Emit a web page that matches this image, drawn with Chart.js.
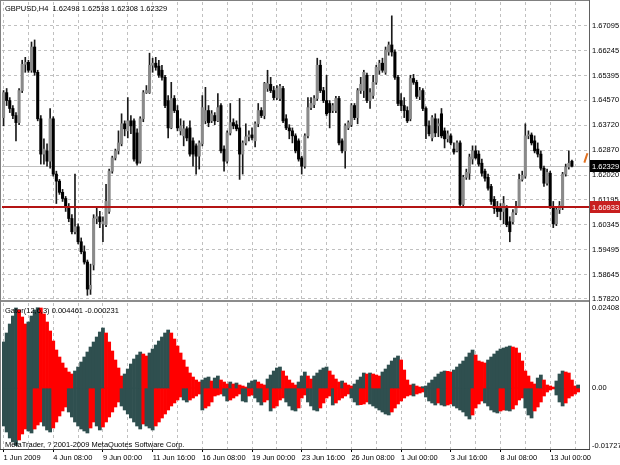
<!DOCTYPE html>
<html><head><meta charset="utf-8">
<script src="https://cdn.jsdelivr.net/npm/chart.js@4.4.1/dist/chart.umd.min.js"></script>
<style>
html,body{margin:0;padding:0;background:#fff;}
#wrap{position:relative;width:620px;height:465px;overflow:hidden;background:#fff;}
#c1{position:absolute;left:0;top:0;z-index:2;}
#c2{position:absolute;left:0;top:300px;z-index:1;}
</style></head><body>
<div id="wrap"><canvas id="c1" width="620" height="306"></canvas><canvas id="c2" width="620" height="165"></canvas></div>
<script>
// ---------- DATA ----------
const slotCount = 189; // H4 bar slots on the x axis (incl. shifted gator bars / right margin)
const dateTicks = ['1 Jun 2009','4 Jun 08:00','9 Jun 00:00','11 Jun 16:00','16 Jun 08:00','19 Jun 00:00','23 Jun 16:00','26 Jun 08:00','1 Jul 00:00','3 Jul 16:00','8 Jul 08:00','13 Jul 00:00'];
const barsPerDateTick = 16;
const priceTicks = [1.67095,1.66245,1.65395,1.64570,1.63720,1.62870,1.62020,1.61195,1.60345,1.59495,1.58645,1.57820];
const gatorTicks = [0.02408, 0, -0.01727];
const levelPrice = 1.60933;

const opens = [1.6398,1.6483,1.6456,1.6429,1.6405,1.6381,1.6490,1.6579,1.6586,1.6559,
1.6638,1.6552,1.6394,1.6274,1.6285,1.6250,1.6394,1.6206,1.6182,1.6144,
1.6123,1.6092,1.6055,1.6010,1.6027,1.5976,1.5942,1.5907,1.5815,1.5897,
1.6055,1.6061,1.6037,1.6034,1.6079,1.6216,1.6261,1.6285,1.6309,1.6377,
1.6353,1.6387,1.6387,1.6346,1.6250,1.6394,1.6483,1.6483,1.6576,1.6583,
1.6573,1.6559,1.6535,1.6456,1.6363,1.6463,1.6422,1.6353,1.6336,1.6360,
1.6363,1.6319,1.6302,1.6267,1.6309,1.6387,1.6422,1.6387,1.6405,1.6387,
1.6439,1.6291,1.6250,1.6346,1.6381,1.6374,1.6363,1.6274,1.6312,1.6333,
1.6339,1.6319,1.6377,1.6422,1.6405,1.6497,1.6511,1.6490,1.6466,1.6463,
1.6497,1.6394,1.6363,1.6353,1.6336,1.6319,1.6261,1.6233,1.6336,1.6432,
1.6442,1.6463,1.6576,1.6490,1.6456,1.6446,1.6422,1.6422,1.6463,1.6319,
1.6285,1.6363,1.6374,1.6439,1.6398,1.6490,1.6490,1.6542,1.6456,1.6473,
1.6518,1.6559,1.6583,1.6552,1.6621,1.6645,1.6621,1.6535,1.6456,1.6439,
1.6422,1.6394,1.6531,1.6518,1.6470,1.6490,1.6429,1.6370,1.6329,1.6394,
1.6370,1.6411,1.6353,1.6326,1.6336,1.6291,1.6285,1.6312,1.6103,1.6195,
1.6209,1.6257,1.6285,1.6274,1.6243,1.6216,1.6195,1.6164,1.6120,1.6096,
1.6089,1.6079,1.6089,1.6044,1.6044,1.6075,1.6096,1.6188,1.6199,1.6336,
1.6339,1.6319,1.6291,1.6274,1.6226,1.6175,1.6209,1.6096,1.6037,1.6085,
1.6096,1.6206,1.6230,1.62498];
const highs = [1.6490,1.6497,1.6466,1.6439,1.6415,1.6497,1.6593,1.6603,1.6593,1.6655,
1.6662,1.6559,1.6405,1.6326,1.6309,1.6429,1.6401,1.6216,1.6188,1.6154,
1.6130,1.6106,1.6068,1.6206,1.6037,1.5989,1.5962,1.5914,1.5900,1.6068,
1.6096,1.6079,1.6061,1.6171,1.6223,1.6267,1.6291,1.6353,1.6411,1.6387,
1.6466,1.6405,1.6394,1.6360,1.6401,1.6490,1.6507,1.6617,1.6600,1.6603,
1.6593,1.6576,1.6542,1.6473,1.6518,1.6473,1.6439,1.6394,1.6387,1.6367,
1.6387,1.6329,1.6309,1.6319,1.6473,1.6501,1.6439,1.6422,1.6415,1.6480,
1.6446,1.6302,1.6353,1.6446,1.6394,1.6387,1.6463,1.6319,1.6377,1.6353,
1.6363,1.6384,1.6446,1.6432,1.6518,1.6559,1.6535,1.6504,1.6507,1.6511,
1.6504,1.6408,1.6374,1.6363,1.6343,1.6326,1.6267,1.6343,1.6466,1.6466,
1.6473,1.6600,1.6593,1.6501,1.6542,1.6456,1.6446,1.6470,1.6470,1.6326,
1.6377,1.6387,1.6446,1.6446,1.6497,1.6535,1.6559,1.6549,1.6497,1.6542,
1.6576,1.6593,1.6600,1.6638,1.6655,1.6744,1.6628,1.6542,1.6480,1.6466,
1.6435,1.6542,1.6545,1.6525,1.6501,1.6497,1.6435,1.6387,1.6405,1.6411,
1.6394,1.6429,1.6363,1.6353,1.6343,1.6312,1.6319,1.6319,1.6202,1.6223,
1.6274,1.6302,1.6302,1.6285,1.6257,1.6223,1.6206,1.6171,1.6130,1.6113,
1.6106,1.6130,1.6099,1.6061,1.6085,1.6113,1.6206,1.6216,1.6377,1.6353,
1.6346,1.6336,1.6312,1.6285,1.6233,1.6223,1.6216,1.6113,1.6096,1.6113,
1.6212,1.6240,1.6285,1.62538];
const lows = [1.6370,1.6439,1.6415,1.6394,1.6319,1.6374,1.6483,1.6552,1.6552,1.6552,
1.6542,1.6387,1.6240,1.6240,1.6233,1.6226,1.6199,1.6106,1.6137,1.6113,
1.6079,1.6044,1.6003,1.6003,1.5969,1.5935,1.5900,1.5794,1.5797,1.5880,
1.6037,1.6024,1.5976,1.6027,1.6072,1.6209,1.6254,1.6274,1.6302,1.6336,
1.6329,1.6343,1.6250,1.6236,1.6243,1.6384,1.6480,1.6480,1.6552,1.6559,
1.6535,1.6525,1.6432,1.6329,1.6360,1.6415,1.6353,1.6339,1.6302,1.6319,
1.6267,1.6233,1.6206,1.6223,1.6302,1.6377,1.6367,1.6381,1.6374,1.6384,
1.6278,1.6216,1.6243,1.6339,1.6360,1.6353,1.6188,1.6206,1.6305,1.6319,
1.6322,1.6298,1.6367,1.6398,1.6394,1.6487,1.6483,1.6459,1.6459,1.6456,
1.6381,1.6357,1.6326,1.6312,1.6278,1.6250,1.6206,1.6226,1.6329,1.6425,
1.6432,1.6456,1.6483,1.6449,1.6405,1.6363,1.6415,1.6415,1.6305,1.6278,
1.6226,1.6357,1.6367,1.6391,1.6377,1.6480,1.6466,1.6449,1.6429,1.6463,
1.6511,1.6545,1.6552,1.6545,1.6610,1.6607,1.6528,1.6439,1.6422,1.6398,
1.6381,1.6387,1.6511,1.6463,1.6459,1.6422,1.6326,1.6336,1.6319,1.6333,
1.6333,1.6329,1.6295,1.6315,1.6305,1.6274,1.6281,1.6096,1.6096,1.6188,
1.6188,1.6240,1.6257,1.6233,1.6199,1.6182,1.6151,1.6103,1.6072,1.6061,
1.6051,1.6037,1.6027,1.5976,1.6037,1.6068,1.6092,1.6182,1.6192,1.6326,
1.6305,1.6278,1.6264,1.6219,1.6164,1.6168,1.6089,1.6024,1.6031,1.6072,
1.6085,1.6199,1.6223,1.62308];
const closes = [1.6483,1.6456,1.6429,1.6405,1.6381,1.6490,1.6579,1.6586,1.6559,1.6638,
1.6552,1.6394,1.6274,1.6291,1.6250,1.6394,1.6206,1.6182,1.6144,1.6123,
1.6092,1.6055,1.6010,1.6027,1.5976,1.5942,1.5907,1.5815,1.5828,1.6055,
1.6061,1.6044,1.6044,1.6113,1.6216,1.6261,1.6285,1.6312,1.6377,1.6360,
1.6387,1.6370,1.6257,1.6243,1.6394,1.6483,1.6490,1.6576,1.6583,1.6569,
1.6542,1.6535,1.6439,1.6363,1.6463,1.6422,1.6363,1.6370,1.6360,1.6329,
1.6274,1.6274,1.6267,1.6312,1.6432,1.6422,1.6381,1.6411,1.6387,1.6432,
1.6285,1.6250,1.6346,1.6381,1.6370,1.6360,1.6274,1.6312,1.6333,1.6339,
1.6329,1.6377,1.6422,1.6405,1.6514,1.6514,1.6490,1.6466,1.6497,1.6504,
1.6387,1.6363,1.6353,1.6336,1.6285,1.6257,1.6233,1.6336,1.6432,1.6446,
1.6463,1.6576,1.6490,1.6456,1.6411,1.6415,1.6439,1.6463,1.6312,1.6285,
1.6370,1.6381,1.6439,1.6398,1.6490,1.6511,1.6552,1.6456,1.6483,1.6518,
1.6569,1.6583,1.6559,1.6628,1.6645,1.6621,1.6535,1.6446,1.6439,1.6422,
1.6387,1.6531,1.6518,1.6470,1.6490,1.6429,1.6370,1.6343,1.6398,1.6346,
1.6377,1.6336,1.6326,1.6343,1.6312,1.6281,1.6312,1.6103,1.6195,1.6212,
1.6264,1.6285,1.6261,1.6240,1.6209,1.6192,1.6158,1.6113,1.6089,1.6079,
1.6079,1.6106,1.6034,1.6010,1.6075,1.6096,1.6188,1.6202,1.6336,1.6339,
1.6312,1.6285,1.6274,1.6226,1.6175,1.6212,1.6096,1.6037,1.6085,1.6099,
1.6206,1.6230,1.6243,1.62329];

const gatorUp = [0.0138,0.0165,0.0192,0.0216,0.0240,0.0234,0.0213,0.0192,0.0198,0.0216,
0.0234,0.02408,0.0240,0.0222,0.0198,0.0171,0.0141,0.0114,0.0093,0.0075,
0.0060,0.0048,0.0042,0.0051,0.0063,0.0078,0.0093,0.0108,0.0123,0.0138,
0.0153,0.0168,0.0180,0.0165,0.0138,0.0111,0.0084,0.0060,0.0036,0.0042,
0.0057,0.0072,0.0087,0.0099,0.0108,0.0102,0.0096,0.0105,0.0117,0.0129,
0.0141,0.0153,0.0165,0.0174,0.0165,0.0147,0.0126,0.0105,0.0084,0.0063,
0.0045,0.0033,0.0024,0.0018,0.0024,0.0030,0.0033,0.0021,0.0030,0.0036,
0.0024,0.0018,0.0012,0.0018,0.0012,0.0015,0.0009,0.0006,0.0003,0.0015,
0.0021,0.0024,0.0018,0.0012,0.0009,0.0027,0.0039,0.0051,0.0060,0.0063,
0.0051,0.0036,0.0024,0.0015,0.0009,0.0018,0.0036,0.0048,0.0036,0.0027,
0.0036,0.0045,0.0054,0.0060,0.0063,0.0051,0.0039,0.0027,0.0018,0.0021,
0.0015,0.0009,0.0006,0.0012,0.0024,0.0033,0.0045,0.0042,0.0045,0.0042,
0.0039,0.0036,0.0048,0.0057,0.0069,0.0081,0.0090,0.0096,0.0084,0.0054,
0.0024,0.0009,0.0012,0.0006,0.0003,0.0004,0.0006,0.0015,0.0024,0.0033,
0.0042,0.0048,0.0051,0.0050,0.0048,0.0054,0.0063,0.0072,0.0081,0.0093,
0.0105,0.0114,0.0099,0.0081,0.0078,0.0075,0.0084,0.0093,0.0102,0.0111,
0.0117,0.0120,0.0123,0.0126,0.0123,0.0120,0.0105,0.0081,0.0051,0.0036,
0.0018,0.0012,0.0030,0.0039,0.0024,0.0009,0.0006,0.0003,0.0021,0.0042,
0.0051,0.0048,0.0045,0.0024,0.0006,0.0009];
const gatorDown = [-0.0114,-0.0132,-0.0150,-0.0162,-0.01727,-0.0156,-0.0138,-0.0123,-0.0129,-0.0135,
-0.0123,-0.0111,-0.0102,-0.0114,-0.0126,-0.0132,-0.0120,-0.0102,-0.0084,-0.0069,
-0.0057,-0.0072,-0.0087,-0.0102,-0.0114,-0.0123,-0.0129,-0.0135,-0.0120,-0.0102,
-0.0114,-0.0126,-0.0117,-0.0102,-0.0087,-0.0072,-0.0057,-0.0042,-0.0054,-0.0066,
-0.0078,-0.0090,-0.0102,-0.0114,-0.0123,-0.0108,-0.0114,-0.0120,-0.0126,-0.0114,
-0.0102,-0.0090,-0.0078,-0.0066,-0.0054,-0.0045,-0.0036,-0.0027,-0.0036,-0.0042,
-0.0036,-0.0030,-0.0024,-0.0018,-0.0066,-0.0060,-0.0054,-0.0042,-0.0024,-0.0021,
-0.0018,-0.0024,-0.0039,-0.0036,-0.0030,-0.0024,-0.0018,-0.0039,-0.0042,-0.0024,
-0.0021,-0.0030,-0.0042,-0.0051,-0.0042,-0.0036,-0.0069,-0.0060,-0.0054,-0.0036,
-0.0030,-0.0042,-0.0054,-0.0066,-0.0069,-0.0060,-0.0030,-0.0021,-0.0042,-0.0054,
-0.0066,-0.0069,-0.0060,-0.0045,-0.0030,-0.0024,-0.0051,-0.0045,-0.0036,-0.0030,
-0.0024,-0.0018,-0.0030,-0.0042,-0.0051,-0.0050,-0.0048,-0.0042,-0.0048,-0.0054,
-0.0060,-0.0066,-0.0072,-0.0078,-0.0081,-0.0072,-0.0060,-0.0048,-0.0039,-0.0030,
-0.0024,-0.0021,-0.0024,-0.0018,-0.0015,-0.0012,-0.0027,-0.0039,-0.0045,-0.0051,
-0.0045,-0.0051,-0.0054,-0.0051,-0.0048,-0.0054,-0.0060,-0.0066,-0.0072,-0.0084,
-0.0093,-0.0081,-0.0060,-0.0048,-0.0039,-0.0045,-0.0054,-0.0066,-0.0072,-0.0075,
-0.0069,-0.0066,-0.0067,-0.0069,-0.0063,-0.0051,-0.0036,-0.0030,-0.0060,-0.0081,
-0.0090,-0.0069,-0.0057,-0.0042,-0.0024,-0.0012,-0.0006,-0.0003,-0.0021,-0.0042,
-0.0054,-0.0045,-0.0030,-0.0024,-0.0018,-0.0012];
const orangeMark = [{x:187, y:1.6245}, {x:188, y:1.6277}];

// ---------- STYLE ----------
const FONT_FAMILY = '"Liberation Sans", Arial, sans-serif';
const FS = 7.5;
const FONT = FS + 'px ' + FONT_FAMILY;
const GRID = '#c0c0c0';
const DARK = '#2f4f4f', RED = '#ff0000';
const BULL = '#8a8a8a', BEAR = '#000000';
Chart.defaults.font.family = FONT_FAMILY;
Chart.defaults.font.size = FS;
Chart.defaults.color = '#000';

const categories = Array.from({length: slotCount}, (_, i) => i);
const bidPrice = closes[closes.length - 1];
const wickData = lows.map((l, i) => [l, highs[i]]);
const bodyData = opens.map((o, i) => [o, closes[i]]);
const bodyColors = opens.map((o, i) => closes[i] >= o ? BULL : BEAR);
const upColors = gatorUp.map((v, i) => (i === 0 || Math.abs(v) >= Math.abs(gatorUp[i-1])) ? DARK : RED);
const downColors = gatorDown.map((v, i) => (i === 0 || Math.abs(v) >= Math.abs(gatorDown[i-1])) ? DARK : RED);

const AXIS_W = 31;
const PANEL1_BOTTOM = 300;

function noPad(s) { s.paddingTop = 0; s.paddingBottom = 0; s.paddingLeft = 0; s.paddingRight = 0; }
function hline(ctx, x1, x2, y, color, w) {
  ctx.save(); ctx.strokeStyle = color; ctx.lineWidth = w;
  ctx.beginPath(); ctx.moveTo(x1, y); ctx.lineTo(x2, y); ctx.stroke(); ctx.restore();
}
function axisBox(ctx, x, y, text, bg) {
  ctx.save();
  ctx.fillStyle = bg; ctx.fillRect(x, Math.round(y) - 6, 620 - x, 12);
  ctx.fillStyle = '#fff'; ctx.font = FONT; ctx.textBaseline = 'middle'; ctx.textAlign = 'left';
  ctx.fillText(text, x + 2, Math.round(y) + 0.5);
  ctx.restore();
}

const pricePanel = {
  id: 'pricePanel',
  beforeDraw(chart) { const c = chart.ctx; c.save(); c.fillStyle = '#fff'; c.fillRect(0, 0, chart.width, PANEL1_BOTTOM); c.restore(); },
  beforeDatasetsDraw(chart) {
    const {ctx, chartArea: a, scales: {y}} = chart;
    hline(ctx, a.left, a.right, Math.round(y.getPixelForValue(bidPrice)) + 0.5, '#c0c0c0', 1);
  },
  afterDatasetsDraw(chart) {
    const {ctx, chartArea: a, scales: {y}} = chart;
    hline(ctx, a.left, a.right, Math.round(y.getPixelForValue(levelPrice)), '#b41414', 2);
  },
  afterDraw(chart) {
    const {ctx, chartArea: a, scales: {y}} = chart;
    ctx.save();
    ctx.fillStyle = '#808080';
    ctx.fillRect(0, 0, a.right + 1, 1);
    ctx.fillRect(0, 0, 1, PANEL1_BOTTOM);
    ctx.fillStyle = '#606060';
    ctx.fillRect(a.right, 0, 1, PANEL1_BOTTOM);
    ctx.fillStyle = '#000'; ctx.font = FONT; ctx.textBaseline = 'middle'; ctx.textAlign = 'left';
    ctx.fillText('GBPUSD,H4  1.62498 1.62538 1.62308 1.62329', 5, 8.5);
    ctx.restore();
    axisBox(ctx, a.right + 1, y.getPixelForValue(bidPrice), bidPrice.toFixed(5), '#000');
    axisBox(ctx, a.right + 1, y.getPixelForValue(levelPrice), levelPrice.toFixed(5), '#c81e1e');
  }
};

const gatorPanel = {
  id: 'gatorPanel',
  beforeDraw(chart) { const c = chart.ctx; c.save(); c.fillStyle = '#fff'; c.fillRect(0, 0, chart.width, chart.height); c.restore(); },
  afterDatasetsDraw(chart) {
    const {ctx, chartArea: a} = chart;
    ctx.save();
    ctx.fillStyle = '#000'; ctx.font = FONT; ctx.textBaseline = 'middle'; ctx.textAlign = 'left';
    ctx.fillText('Gator(12,6,3) 0.004461 -0.000231', 5, 10.5);
    ctx.fillText('MetaTrader, ? 2001-2009 MetaQuotes Software Corp.', 5, a.bottom - 4.5);
    ctx.restore();
  },
  afterDraw(chart) {
    const {ctx, chartArea: a} = chart;
    ctx.save();
    ctx.fillStyle = '#8c8c8c';
    ctx.fillRect(0, 0, a.right + 1, 2);
    ctx.fillStyle = '#808080';
    ctx.fillRect(0, 0, 1, a.bottom);
    ctx.fillStyle = '#606060';
    ctx.fillRect(a.right, 0, 1, a.bottom + 1);
    ctx.fillStyle = '#404040';
    ctx.fillRect(0, a.bottom, a.right + 1, 1);
    ctx.restore();
  }
};

const xGridColor = c => (c.index % 8 === 0 ? GRID : 'rgba(0,0,0,0)');

new Chart(document.getElementById('c1'), {
  type: 'bar',
  data: {
    labels: categories,
    datasets: [
      {data: wickData, backgroundColor: '#1a1a1a', barThickness: 1, grouped: false, order: 3},
      {data: bodyData, backgroundColor: bodyColors, barThickness: 2.4, grouped: false, minBarLength: 1, order: 2},
      {type: 'line', data: orangeMark, borderColor: '#e07020', borderWidth: 2, pointRadius: 0, order: 1}
    ]
  },
  options: {
    responsive: false, animation: false, devicePixelRatio: 1,
    layout: {padding: {left: 2, top: 2, right: 0, bottom: 6}, autoPadding: false},
    plugins: {legend: {display: false}, tooltip: {enabled: false}},
    scales: {
      x: {
        offset: true,
        grid: {offset: false, color: xGridColor, drawTicks: false},
        border: {display: false, dash: [3, 3]},
        ticks: {display: false, autoSkip: false},
        afterFit: s => { s.height = 0; noPad(s); }
      },
      y: {
        position: 'right',
        min: 1.5778, max: 1.6791,
        afterBuildTicks: s => { s.ticks = priceTicks.map(v => ({value: v})); },
        afterFit: s => { s.width = AXIS_W; noPad(s); },
        grid: {color: GRID, drawTicks: false},
        border: {display: false, dash: [3, 3]},
        ticks: {autoSkip: false, padding: 3, color: '#000', font: {size: FS}, callback: v => Number(v).toFixed(5)}
      }
    }
  },
  plugins: [pricePanel]
});

new Chart(document.getElementById('c2'), {
  type: 'bar',
  data: {
    labels: categories,
    datasets: [
      {data: gatorUp, backgroundColor: upColors, barPercentage: 1, categoryPercentage: 1, grouped: false},
      {data: gatorDown, backgroundColor: downColors, barPercentage: 1, categoryPercentage: 1, grouped: false}
    ]
  },
  options: {
    responsive: false, animation: false, devicePixelRatio: 1,
    layout: {padding: {left: 2, top: 3, right: 0, bottom: 0}, autoPadding: false},
    plugins: {legend: {display: false}, tooltip: {enabled: false}},
    scales: {
      x: {
        offset: true,
        grid: {offset: false, color: xGridColor, drawTicks: true, tickLength: 3,
               tickColor: c => (c.index % barsPerDateTick === 0 ? '#000' : 'rgba(0,0,0,0)'), tickBorderDash: []},
        border: {display: false, dash: [3, 3]},
        ticks: {autoSkip: false, maxRotation: 0, minRotation: 0, align: 'start', padding: 1, color: '#000', font: {size: FS},
                callback: (v, i) => (i % barsPerDateTick === 0 ? (dateTicks[i / barsPerDateTick] || '') : '')},
        afterFit: s => { s.height = 16; noPad(s); }
      },
      y: {
        position: 'right',
        min: -0.0183, max: 0.0255,
        afterBuildTicks: s => { s.ticks = gatorTicks.map(v => ({value: v})); },
        afterFit: s => { s.width = AXIS_W; noPad(s); },
        grid: {display: false, drawTicks: false},
        border: {display: false},
        ticks: {autoSkip: false, padding: 3, color: '#000', font: {size: FS}, callback: v => (v === 0 ? '0.00' : Number(v).toFixed(5))}
      }
    }
  },
  plugins: [gatorPanel]
});
</script>
</body></html>
